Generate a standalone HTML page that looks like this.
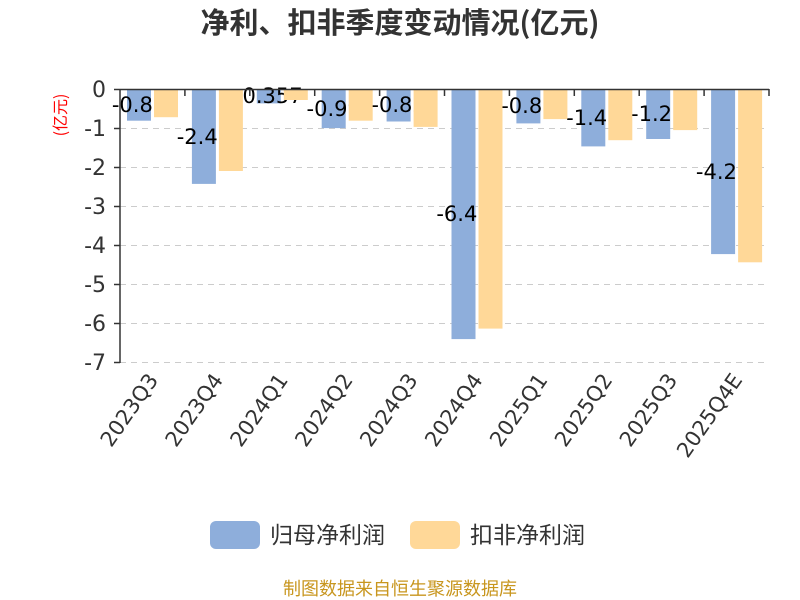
<!DOCTYPE html>
<html><head><meta charset="utf-8"><style>body{margin:0;background:#fff}svg{display:block}</style></head><body>
<svg width="800" height="600" xmlns="http://www.w3.org/2000/svg" font-family="'DejaVu Sans','Noto Sans CJK SC',sans-serif">
<text x="400" y="33" text-anchor="middle" font-size="29" font-weight="bold" fill="#333" font-family="'Noto Sans CJK SC',sans-serif">净利、扣非季度变动情况(亿元)</text>
<text transform="translate(66,115) rotate(-90)" text-anchor="middle" font-size="16" fill="#f00" font-family="'Noto Sans CJK SC',sans-serif">(亿元)</text>
<g stroke="#ccc" stroke-dasharray="6,5">
<line x1="120" x2="769" y1="128.5" y2="128.5"/><line x1="120" x2="769" y1="167.5" y2="167.5"/><line x1="120" x2="769" y1="206.5" y2="206.5"/><line x1="120" x2="769" y1="245.5" y2="245.5"/><line x1="120" x2="769" y1="284.5" y2="284.5"/><line x1="120" x2="769" y1="323.5" y2="323.5"/><line x1="120" x2="769" y1="362.5" y2="362.5"/>
</g>
<g font-size="22" fill="#333" text-anchor="end">
<text x="106" y="97">0</text><text x="106" y="136">-1</text><text x="106" y="175">-2</text><text x="106" y="214">-3</text><text x="106" y="253">-4</text><text x="106" y="292">-5</text><text x="106" y="331">-6</text><text x="106" y="370">-7</text>
</g>
<g fill="#8eaedb">
<rect x="127" y="89.5" width="24" height="31.2"/>
<rect x="191.9" y="89.5" width="24" height="94.4"/>
<rect x="256.8" y="89.5" width="24" height="13.9"/>
<rect x="321.7" y="89.5" width="24" height="38.6"/>
<rect x="386.6" y="89.5" width="24" height="32"/>
<rect x="451.5" y="89.5" width="24" height="249.6"/>
<rect x="516.4" y="89.5" width="24" height="33.9"/>
<rect x="581.3" y="89.5" width="24" height="56.9"/>
<rect x="646.2" y="89.5" width="24" height="49.5"/>
<rect x="711.1" y="89.5" width="24" height="164.6"/>
</g>
<g font-size="21" fill="#000" text-anchor="middle">
<text x="139" y="112">-0.80</text>
<text x="203.9" y="144">-2.42</text>
<text x="268.8" y="103">-0.357</text>
<text x="333.7" y="116">-0.99</text>
<text x="398.6" y="112">-0.82</text>
<text x="463.5" y="221">-6.40</text>
<text x="528.4" y="113">-0.87</text>
<text x="593.3" y="125">-1.46</text>
<text x="658.2" y="121">-1.27</text>
<text x="723.1" y="179">-4.22</text>
</g>
<g fill="#ffd898">
<rect x="154" y="89.5" width="24" height="27.7"/>
<rect x="218.9" y="89.5" width="24" height="81.5"/>
<rect x="283.8" y="89.5" width="24" height="10.5"/>
<rect x="348.7" y="89.5" width="24" height="31.2"/>
<rect x="413.6" y="89.5" width="24" height="37.4"/>
<rect x="478.5" y="89.5" width="24" height="239.1"/>
<rect x="543.4" y="89.5" width="24" height="29.6"/>
<rect x="608.3" y="89.5" width="24" height="50.7"/>
<rect x="673.2" y="89.5" width="24" height="40.6"/>
<rect x="738.1" y="89.5" width="24" height="172.8"/>
</g>
<g stroke="#333" stroke-width="1.5">
<line x1="120" y1="89" x2="120" y2="363"/>
<line x1="120" y1="89.5" x2="769" y2="89.5"/>
<line x1="114" y1="89.5" x2="120" y2="89.5"/><line x1="114" y1="128.5" x2="120" y2="128.5"/><line x1="114" y1="167.5" x2="120" y2="167.5"/><line x1="114" y1="206.5" x2="120" y2="206.5"/><line x1="114" y1="245.5" x2="120" y2="245.5"/><line x1="114" y1="284.5" x2="120" y2="284.5"/><line x1="114" y1="323.5" x2="120" y2="323.5"/><line x1="114" y1="362.5" x2="120" y2="362.5"/>
<line x1="184.9" y1="89" x2="184.9" y2="96"/><line x1="249.8" y1="89" x2="249.8" y2="96"/><line x1="314.7" y1="89" x2="314.7" y2="96"/><line x1="379.6" y1="89" x2="379.6" y2="96"/><line x1="444.5" y1="89" x2="444.5" y2="96"/><line x1="509.4" y1="89" x2="509.4" y2="96"/><line x1="574.3" y1="89" x2="574.3" y2="96"/><line x1="639.2" y1="89" x2="639.2" y2="96"/><line x1="704.1" y1="89" x2="704.1" y2="96"/><line x1="769" y1="89" x2="769" y2="96"/>
</g>
<g font-size="21" fill="#333" text-anchor="end">
<text transform="translate(159,380) rotate(-55)">2023Q3</text>
<text transform="translate(223.9,380) rotate(-55)">2023Q4</text>
<text transform="translate(288.8,380) rotate(-55)">2024Q1</text>
<text transform="translate(353.7,380) rotate(-55)">2024Q2</text>
<text transform="translate(418.6,380) rotate(-55)">2024Q3</text>
<text transform="translate(483.5,380) rotate(-55)">2024Q4</text>
<text transform="translate(548.4,380) rotate(-55)">2025Q1</text>
<text transform="translate(613.3,380) rotate(-55)">2025Q2</text>
<text transform="translate(678.2,380) rotate(-55)">2025Q3</text>
<text transform="translate(743.1,380) rotate(-55)">2025Q4E</text>
</g>
<rect x="210" y="521" width="50" height="28" rx="6" fill="#8eaedb"/>
<text x="270" y="543" font-size="23" fill="#333" font-family="'Noto Sans CJK SC',sans-serif">归母净利润</text>
<rect x="410" y="521" width="50" height="28" rx="6" fill="#ffd898"/>
<text x="470" y="543" font-size="23" fill="#333" font-family="'Noto Sans CJK SC',sans-serif">扣非净利润</text>
<text x="400" y="595" text-anchor="middle" font-size="18" fill="#c8961e" font-family="'Noto Sans CJK SC',sans-serif">制图数据来自恒生聚源数据库</text>
</svg>
</body></html>
